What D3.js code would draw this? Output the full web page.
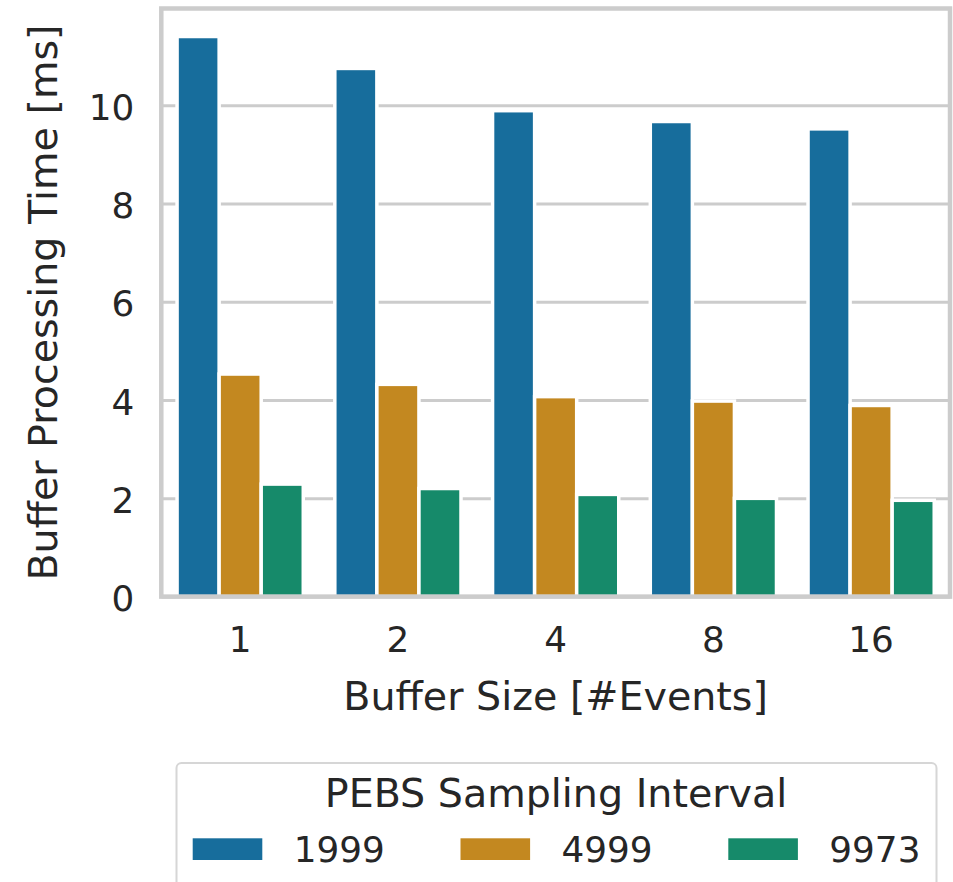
<!DOCTYPE html>
<html>
<head>
<meta charset="utf-8">
<script src="https://cdn.jsdelivr.net/npm/d3@7"></script>
<style>
  html, body { margin: 0; padding: 0; background: #ffffff; }
  svg { display: block; font-family: "DejaVu Sans", sans-serif; }
</style>
</head>
<body>
<svg id="chart" width="953" height="882"></svg>
<script>
// ---- data ----
const categories = ["1", "2", "4", "8", "16"];
const seriesNames = ["1999", "4999", "9973"];
const values1999 = [11.40, 10.75, 9.89, 9.67, 9.52];
const values4999 = [4.53, 4.32, 4.07, 3.98, 3.89];
const values9973 = [2.29, 2.20, 2.08, 2.00, 1.96];
const yTicks = [0, 2, 4, 6, 8, 10];
const colors = ["#176d9c", "#c38820", "#168a6a"];
const xTitle = "Buffer Size [#Events]";
const yTitle = "Buffer Processing Time [ms]";
const legendTitle = "PEBS Sampling Interval";

const seriesValues = [values1999, values4999, values9973];

const svg = d3.select("#chart");
const plotL = 161.3, plotR = 950, plotT = 8.5, plotB = 596.6;
const textColor = "#262626";
const gridColor = "#cccccc";
const tickFont = "35.8px";
const labelFont = "39.6px";

const yMax = d3.max(seriesValues.flat()) * 1.05;
const x = d3.scaleBand().domain(categories).range([plotL, plotR]).padding(0);
const xInner = d3.scaleBand().domain(seriesNames).range([0, x.bandwidth() * 0.8]).padding(0);
const y = d3.scaleLinear().domain([0, yMax]).range([plotB, plotT]);

// grid
const yAxis = d3.axisLeft(y).tickValues(yTicks).tickSize(-(plotR - plotL)).tickPadding(27).tickFormat(d3.format("d"));
const gy = svg.append("g").attr("transform", `translate(${plotL},0)`).call(yAxis);
gy.select(".domain").remove();
gy.selectAll(".tick line").attr("stroke", gridColor).attr("stroke-width", 3);
gy.selectAll(".tick text")
  .attr("fill", textColor)
  .attr("font-size", tickFont)
  .attr("font-family", "DejaVu Sans")
  .attr("dy", "0.39em");

// bars
const rows = [];
categories.forEach((c, i) => {
  seriesNames.forEach((s, j) => rows.push({ cat: c, ser: s, val: seriesValues[j][i], color: colors[j] }));
});
svg.append("g").selectAll("rect").data(rows).join("rect")
  .attr("x", d => x(d.cat) + x.bandwidth() * 0.1 + xInner(d.ser))
  .attr("y", d => y(d.val))
  .attr("width", xInner.bandwidth())
  .attr("height", d => y(0) - y(d.val))
  .attr("fill", d => d.color)
  .attr("stroke", "#ffffff")
  .attr("stroke-width", 3.5);

// x axis labels
const xAxis = d3.axisBottom(x).tickSize(0).tickPadding(0);
const gx = svg.append("g").attr("transform", `translate(0,${plotB})`).call(xAxis);
gx.select(".domain").remove();
gx.selectAll(".tick text")
  .attr("fill", textColor)
  .attr("font-size", tickFont)
  .attr("font-family", "DejaVu Sans")
  .attr("y", 0)
  .attr("dy", 0)
  .attr("transform", "translate(0,55.5)");

// frame
svg.append("rect")
  .attr("x", plotL).attr("y", plotT)
  .attr("width", plotR - plotL).attr("height", plotB - plotT)
  .attr("fill", "none").attr("stroke", gridColor).attr("stroke-width", 4.5);

// axis titles
svg.append("text")
  .attr("x", (plotL + plotR) / 2).attr("y", 710)
  .attr("text-anchor", "middle")
  .attr("font-size", labelFont).attr("fill", textColor)
  .text(xTitle);
svg.append("text")
  .attr("transform", `translate(57,${(plotT + plotB) / 2}) rotate(-90)`)
  .attr("text-anchor", "middle")
  .attr("font-size", labelFont).attr("fill", textColor)
  .text(yTitle);

// legend
const lg = svg.append("g");
lg.append("rect")
  .attr("x", 176.5).attr("y", 763)
  .attr("width", 760).attr("height", 140)
  .attr("rx", 5).attr("ry", 5)
  .attr("fill", "#ffffff").attr("stroke", "#d6d6d6").attr("stroke-width", 2);
lg.append("text")
  .attr("x", 556).attr("y", 806.5)
  .attr("text-anchor", "middle")
  .attr("font-size", labelFont).attr("fill", textColor)
  .text(legendTitle);
const legX = d3.scalePoint().domain(seriesNames).range([192.7, 728.3]);
const items = lg.selectAll("g.item").data(seriesNames).join("g").attr("class", "item")
  .attr("transform", d => `translate(${legX(d)},0)`);
items.append("rect")
  .attr("x", 0).attr("y", 838.3).attr("width", 69.6).attr("height", 21.7)
  .attr("fill", (d, i) => colors[i]);
items.append("text")
  .attr("x", 101).attr("y", 861.5)
  .attr("font-size", tickFont).attr("fill", textColor)
  .text(d => d);
</script>
</body>
</html>
